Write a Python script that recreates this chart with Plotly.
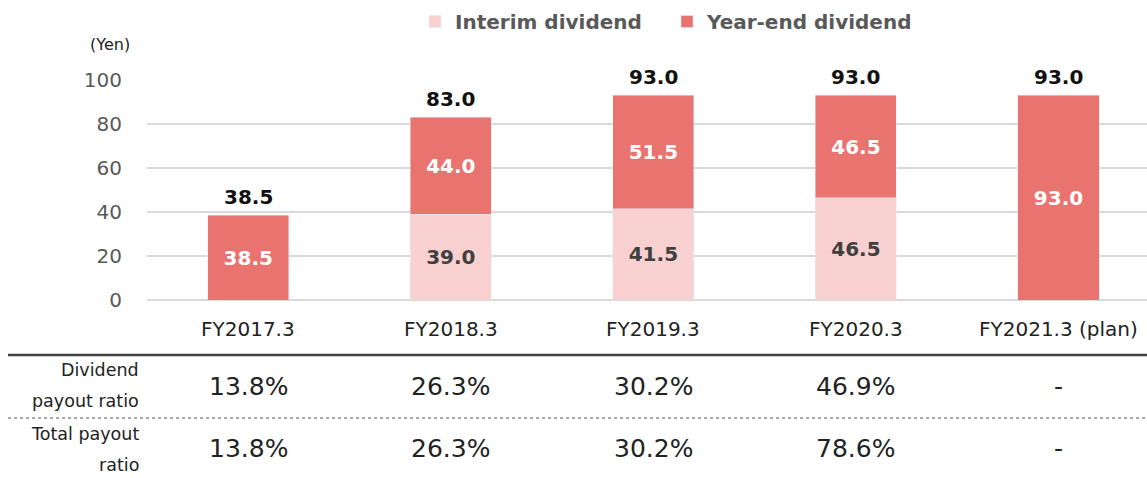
import plotly.graph_objects as go

categories = ["FY2017.3", "FY2018.3", "FY2019.3", "FY2020.3", "FY2021.3 (plan)"]
interim = [0, 39.0, 41.5, 46.5, 0]
year_end = [38.5, 44.0, 51.5, 46.5, 93.0]
totals = [38.5, 83.0, 93.0, 93.0, 93.0]
dividend_payout = ["13.8%", "26.3%", "30.2%", "46.9%", "-"]
total_payout = ["13.8%", "26.3%", "30.2%", "78.6%", "-"]
y_ticks = [0, 20, 40, 60, 80, 100]

FONT = "DejaVu Sans"
C_INT = "#F8D0D0"
C_YE = "#E8736F"

xs = list(range(len(categories)))

fig = go.Figure()
fig.add_trace(go.Bar(
    x=xs, y=interim, name="<b>Interim dividend</b>", marker_color=C_INT, width=0.4,
    text=[f"{v:.1f}" if v else "" for v in interim], textposition="inside",
    insidetextanchor="middle", textangle=0,
    textfont=dict(family=FONT, size=20, color="#404040", weight="bold"),
))
fig.add_trace(go.Bar(
    x=xs, y=year_end, name="<b>Year-end dividend</b>", marker_color=C_YE, width=0.4,
    text=[f"{v:.1f}" for v in year_end], textposition="inside",
    insidetextanchor="middle", textangle=0,
    textfont=dict(family=FONT, size=20, color="white", weight="bold"),
))

plot_top, plot_h = 80, 220
plot_left, plot_w = 147, 1000

def paper_y(pix):
    return (plot_top + plot_h - pix) / plot_h

def paper_x(pix):
    return (pix - plot_left) / plot_w

fig.update_layout(
    width=1147, height=478,
    margin=dict(l=147, r=0, t=80, b=178, autoexpand=False),
    paper_bgcolor="white", plot_bgcolor="white",
    barmode="stack", bargap=0.6,
    showlegend=True,
    legend=dict(orientation="h", x=paper_x(415), xanchor="left", y=paper_y(2), yref="paper", yanchor="top",
                font=dict(family=FONT, size=20, color="#595959"), entrywidth=207,
                traceorder="normal", itemclick=False),
    xaxis=dict(range=[-0.5, 4.437], showticklabels=False, showgrid=False, zeroline=False,
               showline=False, fixedrange=True),
    yaxis=dict(range=[0, 100], tickvals=y_ticks, showgrid=True, gridcolor="#D9D9D9", gridwidth=1.5,
               zeroline=True, zerolinecolor="#D9D9D9", zerolinewidth=1.5,
               tickfont=dict(family=FONT, size=20, color="#595959"), ticks="", ticklabelstandoff=24,
               fixedrange=True),
)

annotations = []
for i, t in enumerate(totals):
    annotations.append(dict(x=i, y=t, xref="x", yref="y", text=f"<b>{t:.1f}</b>", showarrow=False,
                            yanchor="bottom", yshift=4, font=dict(family=FONT, size=20, color="#111")))
for i, c in enumerate(categories):
    annotations.append(dict(x=i, y=paper_y(329), xref="x", yref="paper", text=c, showarrow=False,
                            yanchor="middle", font=dict(family=FONT, size=20, color="#222")))
    annotations.append(dict(x=i, y=paper_y(386), xref="x", yref="paper", text=dividend_payout[i],
                            showarrow=False, yanchor="middle", font=dict(family=FONT, size=25, color="#222")))
    annotations.append(dict(x=i, y=paper_y(448), xref="x", yref="paper", text=total_payout[i],
                            showarrow=False, yanchor="middle", font=dict(family=FONT, size=25, color="#222")))
row_lines = [("Dividend", 370), ("payout ratio", 401), ("Total payout", 434), ("ratio", 465)]
for txt, yy in row_lines:
    annotations.append(dict(x=paper_x(141), y=paper_y(yy), xref="paper", yref="paper", text=txt,
                            showarrow=False, xanchor="right", yanchor="middle",
                            font=dict(family=FONT, size=17.5, color="#222")))
annotations.append(dict(x=paper_x(110), y=paper_y(45), xref="paper", yref="paper", text="(Yen)",
                        showarrow=False, xanchor="center", yanchor="middle",
                        font=dict(family=FONT, size=16, color="#222")))

shapes = [
    dict(type="line", xref="paper", yref="paper", x0=paper_x(8), x1=1,
         y0=paper_y(355), y1=paper_y(355), line=dict(color="#404040", width=2.5)),
    dict(type="line", xref="paper", yref="paper", x0=paper_x(8), x1=1,
         y0=paper_y(418), y1=paper_y(418), line=dict(color="#555", width=1.2, dash="dot")),
]
fig.update_layout(annotations=annotations, shapes=shapes)
fig.update_traces(cliponaxis=False)

fig.write_html("out.html", config={"displayModeBar": False},
               post_script="document.body.style.margin='0';")
